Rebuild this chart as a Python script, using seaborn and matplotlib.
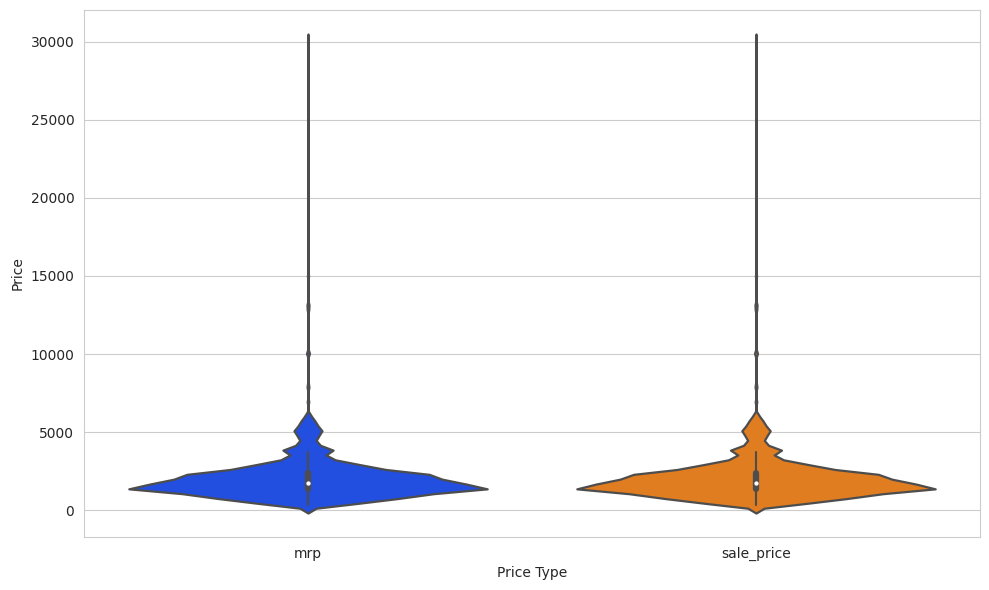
import numpy as np
import pandas as pd
import seaborn as sns
import matplotlib.pyplot as plt

price_points = [320, 440, 750, 1060, 1170, 1370, 1680, 1775, 1990, 2400, 2610, 2920, 3230, 3540, 3750,
                4300, 4780, 5090, 5400, 5708, 6018, 6328, 6948, 8000, 10047, 13000, 15000, 20000, 23000, 25000, 30000]
mrp_counts = [488, 260, 900, 900, 641, 1713, 500, 1695, 1182, 2010, 559, 520, 270, 135, 412,
              340, 110, 140, 100, 70, 35, 5, 8, 20, 15, 30, 6, 2, 2, 2, 3]
sale_counts = [488, 260, 900, 900, 641, 1690, 500, 1695, 1182, 2010, 559, 520, 270, 135, 412,
               340, 110, 140, 100, 70, 35, 5, 8, 20, 15, 30, 6, 2, 2, 2, 3]

mrp = np.repeat(price_points, mrp_counts)
sale_price = np.repeat(price_points, sale_counts)

df = pd.DataFrame({"mrp": pd.Series(mrp), "sale_price": pd.Series(sale_price)})
melted = df.melt(var_name="Price Type", value_name="Price").dropna()

sns.set_style("whitegrid")
plt.figure(figsize=(9.89, 5.9), dpi=100)
ax = sns.violinplot(data=melted, x="Price Type", y="Price", hue="Price Type", palette="bright",
                    cut=5, bw_method=100 / melted["Price"].std(), linewidth=1.6,
                    inner_kws=dict(box_width=4.5, whis_width=1.5, marker="o", markersize=2.2))
plt.subplots_adjust(left=84 / 989, right=980 / 989, top=1 - 10 / 590, bottom=1 - 537 / 590)
ax.yaxis.labelpad = 4
plt.savefig("out.png", dpi=100)
